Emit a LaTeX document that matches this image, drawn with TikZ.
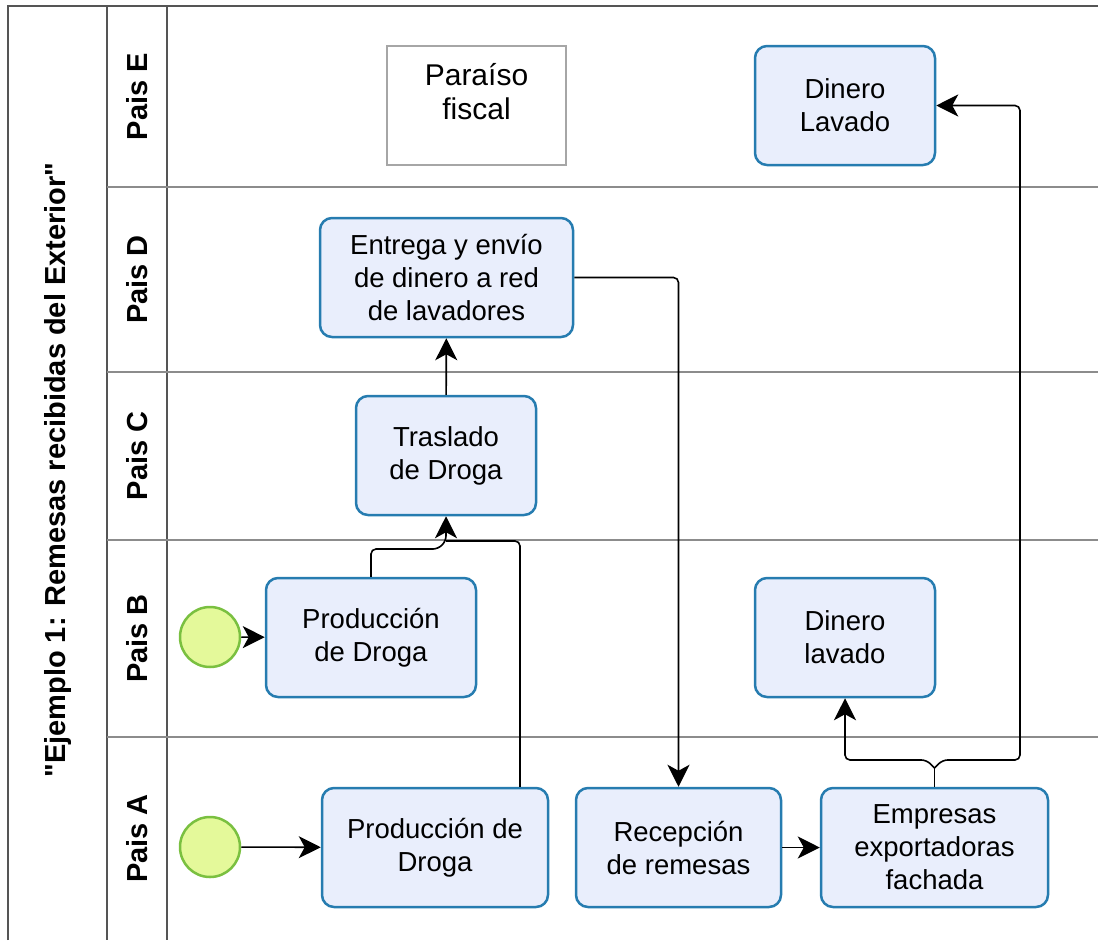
\documentclass[tikz,border=0pt]{standalone}
\usepackage{fontspec}
\setmainfont{Liberation Sans}
\newfontfamily\titlefont{Liberation Sans}
\usetikzlibrary{arrows.meta}

\definecolor{taskline}{RGB}{38,124,176}
\definecolor{taskfill}{RGB}{233,238,252}
\definecolor{startline}{RGB}{122,192,64}
\definecolor{startfill}{RGB}{228,249,154}
\definecolor{poolline}{RGB}{85,85,85}
\definecolor{laneline}{RGB}{140,140,140}

\tikzstyle{task}=[draw=taskline, fill=taskfill, line width=2.5pt,
                  rounded corners=12pt, minimum height=119pt,
                  align=center, inner sep=0pt,
                  font=\fontsize{27.5}{33}\selectfont]
\tikzstyle{fiscal}=[draw=gray!70, fill=white, line width=2pt,
                    minimum width=179pt, minimum height=119pt]
\tikzstyle{fiscaltext}=[anchor=north, align=center, inner sep=0pt,
                        yshift=-18pt, font=\fontsize{30}{34}\selectfont]
\tikzstyle{start}=[circle, draw=startline, fill=startfill,
                   line width=2.5pt, minimum size=60pt, inner sep=0pt]
\tikzstyle{lanename}=[rotate=90, font=\titlefont\bfseries\fontsize{29}{34}\selectfont]
\tikzstyle{flow}=[draw, line width=1.6pt, rounded corners=5pt,
                  -{Stealth[length=22pt,width=22pt,inset=6pt]}]
\tikzstyle{link}=[draw, line width=1.6pt, rounded corners=5pt]

\begin{document}
\begin{tikzpicture}[x=1pt,y=-1pt]
  \useasboundingbox (0,0) rectangle (1098,940);

  % pool and lanes
  \draw[poolline, line width=2pt] (8,940) -- (8,6) -- (1098,6);
  \draw[poolline, line width=1.5pt] (107,6) -- (107,940);
  \draw[poolline, line width=1.5pt] (167,6) -- (167,940);
  \foreach \y in {187,372,540,737}
    \draw[laneline, line width=2.5pt] (107,\y) -- (1098,\y);

  \node[lanename] (pool) at (58,470) {"Ejemplo 1: Remesas recibidas del Exterior"};
  \node[lanename] (laneE) at (137,96.5) {Pais E};
  \node[lanename] (laneD) at (137,279.5) {Pais D};
  \node[lanename] (laneC) at (137,456) {Pais C};
  \node[lanename] (laneB) at (137,638.5) {Pais B};
  \node[lanename] (laneA) at (137,838.5) {Pais A};

  % pais E
  \node[fiscal, label={[fiscaltext]north:Paraíso\\fiscal}] (paraiso) at (476.5,105.5) {};
  \node[task, minimum width=180pt] (dineroE) at (845,105.5) {Dinero\\Lavado};

  % pais D
  \node[task, minimum width=253pt] (entrega) at (446.5,277.5)
    {Entrega y envío\\de dinero a red\\de lavadores};

  % pais C
  \node[task, minimum width=180pt] (traslado) at (446,455.5) {Traslado\\de Droga};

  % pais B
  \node[start] (startB) at (210,637) {};
  \node[task, minimum width=210pt] (prodB) at (371,637.5) {Producción\\de Droga};
  \node[task, minimum width=180pt] (dineroB) at (845,637.5) {Dinero\\lavado};

  % pais A
  \node[start] (startA) at (210,847) {};
  \node[task, minimum width=226pt] (prodA) at (435,847.5) {Producción de\\Droga};
  \node[task, minimum width=205pt] (recepcion) at (678.5,847.5) {Recepción\\de remesas};
  \node[task, minimum width=227pt] (empresas) at (934.5,847.5)
    {Empresas\\exportadoras\\fachada};

  % bend points
  \coordinate (merge) at (446,541);
  \coordinate (upA) at (520,0);
  \coordinate (split) at (934.5,768);
  \coordinate (sideE) at (1020,105.5);

  % connectors
  \draw[flow] (startB) -- (prodB);
  \draw[flow] (startA) -- (prodA);
  \draw[flow] (prodB.north) |- ([xshift=-8pt,yshift=-8pt]merge) -- (merge) -- (traslado.south);
  \draw[link] (prodA.north -| upA) |- ([xshift=6pt]merge) -- (merge);
  \draw[flow] (traslado) -- (entrega);
  \draw[flow] (entrega.east) -| (recepcion.north);
  \draw[flow] (recepcion) -- (empresas);
  \draw[link] (empresas.north) -- (split);
  \draw[flow] (split) -- ++(-8,-8) -| (dineroB.south);
  \draw[flow] (split) -- ++(8,-8) -| (sideE) -- (dineroE.east);
\end{tikzpicture}
\end{document}
